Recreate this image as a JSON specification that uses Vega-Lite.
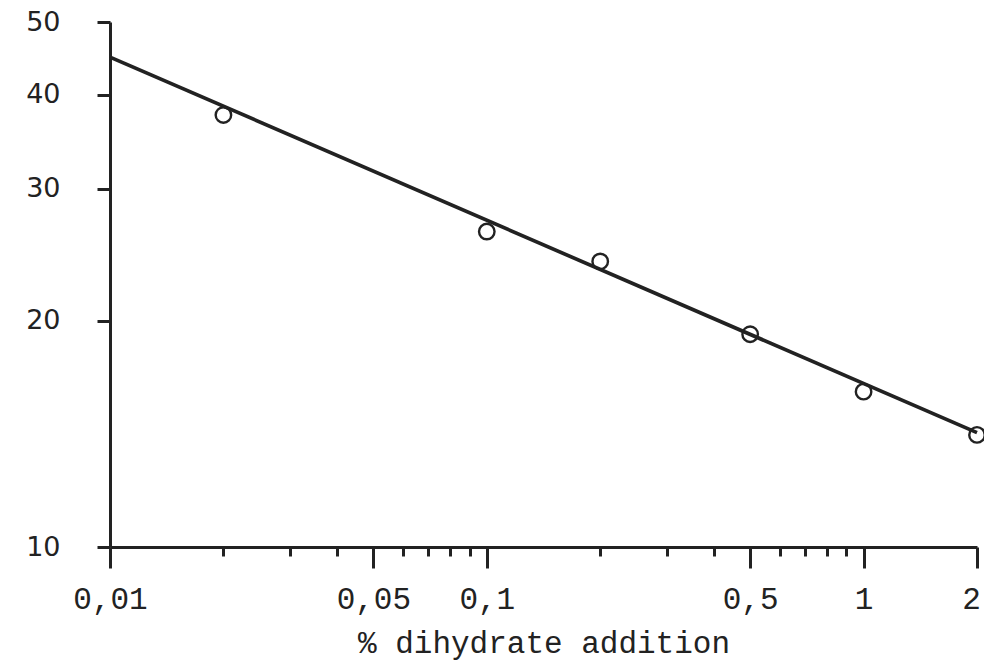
{
  "$schema": "https://vega.github.io/schema/vega-lite/v6.json",
  "width": 867,
  "height": 525,
  "autosize": {"type": "none"},
  "padding": {"left": 110, "top": 22, "right": 7, "bottom": 116},
  "background": "white",
  "config": {"view": {"stroke": null}},
  "datasets": {
    "points": [
      {"pct": 0.02, "value": 37.6},
      {"pct": 0.1, "value": 26.3},
      {"pct": 0.2, "value": 24.0},
      {"pct": 0.5, "value": 19.2},
      {"pct": 1, "value": 16.1},
      {"pct": 2, "value": 14.1}
    ],
    "fit": [
      {"pct": 0.01, "value": 44.9},
      {"pct": 2, "value": 14.2}
    ]
  },
  "layer": [
    {
      "data": {"name": "fit"},
      "mark": {"type": "line", "color": "#222", "strokeWidth": 3.7, "clip": false},
      "encoding": {
        "x": {
          "field": "pct",
          "type": "quantitative",
          "scale": {"type": "log", "domain": [0.01, 2], "nice": false},
          "axis": {
            "title": "% dihydrate addition",
            "titleFont": "Liberation Mono",
            "titleFontSize": 31,
            "titleFontWeight": "normal",
            "titleColor": "#222",
            "titlePadding": 14,
            "values": [0.01, 0.02, 0.03, 0.04, 0.05, 0.06, 0.07, 0.08, 0.09, 0.1, 0.2, 0.3, 0.4, 0.5, 0.6, 0.7, 0.8, 0.9, 1, 2],
            "labelExpr": "indexof([0.01,0.05,0.1,0.5,1,2], datum.value) >= 0 ? replace(toString(datum.value), '.', ',') : ''",
            "labelFont": "Liberation Mono",
            "labelFontSize": 31,
            "labelColor": "#222",
            "labelFlush": false,
            "labelOverlap": false,
            "labelPadding": 16,
            "labelBound": false,
            "labelOffset": {"condition": {"test": "datum.value == 2", "value": -6}, "value": 0},
            "tickSize": {"condition": {"test": "indexof([0.01,0.05,0.1,0.5,1,2], datum.value) >= 0", "value": 21}, "value": 9},
            "tickWidth": 3,
            "tickColor": "#222",
            "domainColor": "#222",
            "domainWidth": 3,
            "grid": false
          }
        },
        "y": {
          "field": "value",
          "type": "quantitative",
          "scale": {"type": "log", "domain": [10, 50], "nice": false},
          "axis": {
            "title": null,
            "values": [10, 20, 30, 40, 50],
            "labelFont": "DejaVu Sans",
            "labelFontSize": 27,
            "labelColor": "#222",
            "labelFlush": false,
            "labelOverlap": false,
            "labelPadding": 37,
            "tickSize": 13,
            "tickWidth": 3,
            "tickColor": "#222",
            "domainColor": "#222",
            "domainWidth": 3,
            "grid": false
          }
        }
      }
    },
    {
      "data": {"name": "points"},
      "mark": {"type": "point", "shape": "circle", "filled": false, "color": "#222", "strokeWidth": 2.4, "size": 240, "clip": false, "opacity": 1},
      "encoding": {
        "x": {"field": "pct", "type": "quantitative"},
        "y": {"field": "value", "type": "quantitative"}
      }
    }
  ]
}
